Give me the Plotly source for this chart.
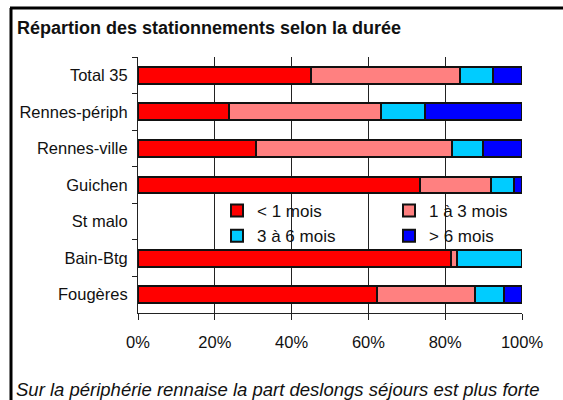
import plotly.graph_objects as go

categories = ["Total 35", "Rennes-périph", "Rennes-ville", "Guichen", "St malo", "Bain-Btg", "Fougères"]
lt_1_mois = [45.0, 23.7, 30.8, 73.5, None, 81.4, 62.3]
de_1_a_3_mois = [38.9, 39.5, 51.0, 18.4, None, 1.8, 25.4]
de_3_a_6_mois = [8.6, 11.5, 8.1, 6.1, None, 16.8, 7.6]
gt_6_mois = [7.5, 25.3, 10.1, 2.0, None, None, 4.7]
x_ticks = [0, 20, 40, 60, 80, 100]
x_tick_labels = ["0%", "20%", "40%", "60%", "80%", "100%"]

series = [
    ("< 1 mois", lt_1_mois, "#FF0000", "legend"),
    ("1 à 3 mois", de_1_a_3_mois, "#FF8080", "legend2"),
    ("3 à 6 mois", de_3_a_6_mois, "#00CCFF", "legend"),
    ("> 6 mois", gt_6_mois, "#0000FF", "legend2"),
]

W, H = 563, 400
ML, MT = 138, 57
MR = W - 522
MB = H - 313
PW, PH = W - ML - MR, H - MT - MB

def px_x(p):
    return (p - ML) / PW

def px_y(p):
    return (H - MB - p) / PH

FONT = "Liberation Sans, Arial, sans-serif"

fig = go.Figure()
for name, vals, color, lg in series:
    fig.add_trace(go.Bar(
        y=categories, x=vals, name=name, orientation="h",
        marker=dict(color=color, line=dict(color="#111111", width=2)),
        legend=lg,
    ))

fig.update_layout(
    width=W, height=H,
    margin=dict(l=ML, r=MR, t=MT, b=MB),
    barmode="stack", bargap=0.54,
    paper_bgcolor="white", plot_bgcolor="white",
    font=dict(family=FONT, size=16.5, color="#111111"),
    xaxis=dict(
        range=[0, 100], tickmode="array", tickvals=x_ticks, ticktext=x_tick_labels,
        showgrid=True, gridcolor="#222222", gridwidth=1, zeroline=False,
        showline=True, linecolor="#222222", linewidth=1,
        ticks="outside", ticklen=6, tickcolor="#222222",
        ticklabelstandoff=8, tickfont=dict(size=16.5),
    ),
    yaxis=dict(
        categoryorder="array", categoryarray=categories, autorange="reversed",
        showline=True, linecolor="#222222", linewidth=1,
        ticks="outside", ticklen=5, tickcolor="#222222", tickson="boundaries",
        showgrid=False, ticklabelstandoff=6, tickfont=dict(size=16.5),
    ),
    legend=dict(
        x=px_x(217), y=px_y(193), xanchor="left", yanchor="top",
        bgcolor="rgba(0,0,0,0)", font=dict(size=17), tracegroupgap=0,
        traceorder="normal",
    ),
    legend2=dict(
        x=px_x(389), y=px_y(193), xanchor="left", yanchor="top",
        bgcolor="rgba(0,0,0,0)", font=dict(size=17), tracegroupgap=0,
        traceorder="normal",
    ),
    showlegend=True,
)

fig.add_annotation(
    text="<b>Répartion des stationnements selon la durée</b>",
    xref="paper", yref="paper", x=px_x(15), y=px_y(28),
    xanchor="left", yanchor="middle", showarrow=False,
    font=dict(size=18, family=FONT, color="#111111"),
)
fig.add_annotation(
    text="<i>Sur la périphérie rennaise la part deslongs séjours est plus forte</i>",
    xref="paper", yref="paper", x=px_x(14), y=px_y(389),
    xanchor="left", yanchor="middle", showarrow=False,
    font=dict(size=18.5, family=FONT, color="#111111"),
)

# frame lines (left and top)
fig.add_shape(type="line", xref="paper", yref="paper",
              x0=px_x(11), x1=px_x(11), y0=px_y(8), y1=px_y(400),
              line=dict(color="black", width=3))
fig.add_shape(type="line", xref="paper", yref="paper",
              x0=px_x(10), x1=px_x(563), y0=px_y(8), y1=px_y(8),
              line=dict(color="black", width=3))

fig.write_html(
    "out.html",
    config={"displayModeBar": False},
    post_script="document.body.style.margin='0';document.body.style.overflow='hidden';",
)
